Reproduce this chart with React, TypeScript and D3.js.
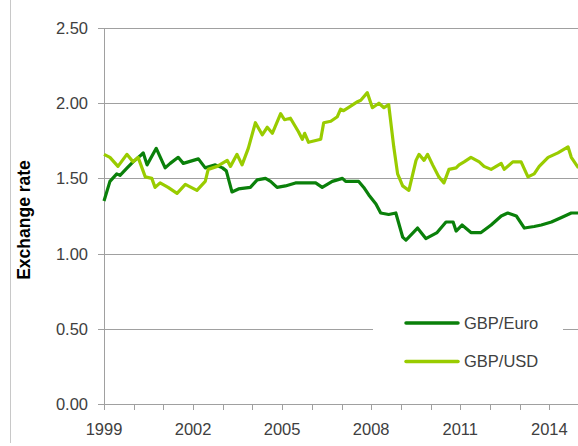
import React from 'react';
import * as d3 from 'd3';

// decimal years and values
const euroDates = [
  1999.0, 1999.2, 1999.43, 1999.54, 1999.78, 1999.98, 2000.22, 2000.32, 2000.45, 2000.76,
  2001.06, 2001.23, 2001.5, 2001.67, 2002.01, 2002.18, 2002.41, 2002.75, 2002.99, 2003.12,
  2003.31, 2003.53, 2003.93, 2004.16, 2004.44, 2004.61, 2004.83, 2005.11, 2005.45, 2005.79,
  2006.13, 2006.35, 2006.69, 2007.03, 2007.14, 2007.58, 2007.75, 2007.92, 2008.16, 2008.32,
  2008.59, 2008.83, 2009.06, 2009.17, 2009.27, 2009.56, 2009.84, 2010.22, 2010.52, 2010.76,
  2010.86, 2011.06, 2011.36, 2011.7, 2012.04, 2012.38, 2012.6, 2012.89, 2013.16, 2013.49,
  2013.73, 2014.07, 2014.41, 2014.74, 2014.98,
];
const euroValues = [
  1.35, 1.48, 1.53, 1.52, 1.57, 1.61, 1.65, 1.67, 1.59, 1.7,
  1.57, 1.6, 1.64, 1.6, 1.62, 1.63, 1.57, 1.59, 1.57, 1.55,
  1.41, 1.43, 1.44, 1.49, 1.5, 1.48, 1.44, 1.45, 1.47, 1.47,
  1.47, 1.44, 1.48, 1.5, 1.48, 1.48, 1.44, 1.39, 1.33, 1.27,
  1.26, 1.27, 1.11, 1.09, 1.11, 1.17, 1.1, 1.14, 1.21, 1.21,
  1.15, 1.19, 1.14, 1.14, 1.19, 1.25, 1.27, 1.25, 1.17, 1.18,
  1.19, 1.21, 1.24, 1.27, 1.27,
];

const usdDates = [
  1999.0, 1999.2, 1999.47, 1999.77, 1999.98, 2000.15, 2000.39, 2000.61, 2000.72, 2000.89,
  2001.16, 2001.46, 2001.74, 2002.13, 2002.41, 2002.51, 2002.81, 2003.15, 2003.26, 2003.48,
  2003.65, 2003.86, 2004.1, 2004.33, 2004.5, 2004.67, 2004.95, 2005.08, 2005.28, 2005.55,
  2005.68, 2005.76, 2005.89, 2006.3, 2006.4, 2006.64, 2006.86, 2006.97, 2007.07, 2007.31,
  2007.54, 2007.65, 2007.87, 2008.04, 2008.26, 2008.43, 2008.59, 2008.76, 2008.89, 2009.06,
  2009.27, 2009.51, 2009.61, 2009.78, 2009.9, 2010.07, 2010.28, 2010.45, 2010.62, 2010.86,
  2010.96, 2011.13, 2011.36, 2011.64, 2011.8, 2012.04, 2012.38, 2012.48, 2012.77, 2013.05,
  2013.28, 2013.49, 2013.66, 2013.96, 2014.29, 2014.63, 2014.74, 2014.98,
];
const usdValues = [
  1.66, 1.64, 1.58, 1.66, 1.61, 1.64, 1.51, 1.5, 1.44, 1.47,
  1.44, 1.4, 1.46, 1.42, 1.48, 1.56, 1.58, 1.62, 1.58, 1.66,
  1.59, 1.7, 1.87, 1.79, 1.84, 1.8, 1.93, 1.89, 1.9, 1.81,
  1.76, 1.8, 1.74, 1.76, 1.87, 1.88, 1.91, 1.96, 1.95, 1.98,
  2.01, 2.02, 2.07, 1.97, 2.0, 1.97, 1.99, 1.71, 1.53, 1.45,
  1.42, 1.62, 1.66, 1.62, 1.66, 1.59, 1.51, 1.47, 1.56, 1.57,
  1.59, 1.61, 1.64, 1.61, 1.58, 1.56, 1.6, 1.56, 1.61, 1.61,
  1.51, 1.53, 1.58, 1.64, 1.67, 1.71, 1.64, 1.57,
];

const yTicks = [0, 0.5, 1, 1.5, 2, 2.5];
const yearTicks = d3.range(1999, 2016);
const yearLabels = [1999, 2002, 2005, 2008, 2011, 2014];

const seriesNames = ['GBP/Euro', 'GBP/USD'];
const seriesColors = ['#0a800a', '#99cc00'];

const App = () => {
  const width = 578,
    height = 446;

  const x = d3.scaleLinear().domain([1999, 2015]).range([104, 579]);
  const y = d3.scaleLinear().domain([0, 2.5]).range([404, 28]);

  const line = d3
    .line<[number, number]>()
    .x((d) => x(d[0]))
    .y((d) => y(d[1]));

  const euro = euroDates.map((t, i) => [t, euroValues[i]] as [number, number]);
  const usd = usdDates.map((t, i) => [t, usdValues[i]] as [number, number]);
  const series = [euro, usd];

  const font = "'Liberation Sans', Arial, sans-serif";

  return (
    <>
      <style>{`body{margin:0}`}</style>
      <svg width={width} height={height} style={{ display: 'block', background: '#fff' }}>
        <line x1={10.5} x2={10.5} y1={0} y2={443} stroke="#c8c8c8" />

        {/* grid */}
        {yTicks.slice(1).map((v) => (
          <line
            key={v}
            x1={98}
            x2={578}
            y1={Math.round(y(v)) + 0.5}
            y2={Math.round(y(v)) + 0.5}
            stroke="#a0a0a0"
          />
        ))}

        {/* axes */}
        <line x1={104.5} x2={104.5} y1={28} y2={404} stroke="#a0a0a0" />
        <line x1={98} x2={578} y1={404.5} y2={404.5} stroke="#a0a0a0" />
        {yearTicks.map((t) => (
          <line
            key={t}
            x1={Math.round(x(t)) + 0.5}
            x2={Math.round(x(t)) + 0.5}
            y1={404}
            y2={410}
            stroke="#a0a0a0"
          />
        ))}

        {yTicks.map((v) => (
          <text
            key={v}
            x={88}
            y={y(v)}
            dy="0.36em"
            textAnchor="end"
            fontFamily={font}
            fontSize={16.5}
            fill="#404040">
            {v.toFixed(2)}
          </text>
        ))}
        {yearLabels.map((t) => (
          <text
            key={t}
            x={x(t)}
            y={435}
            textAnchor="middle"
            fontFamily={font}
            fontSize={16.5}
            fill="#404040">
            {t}
          </text>
        ))}

        <text
          transform="translate(30,220) rotate(-90)"
          textAnchor="middle"
          fontFamily={font}
          fontSize={17.5}
          fontWeight="bold"
          fill="#000">
          Exchange rate
        </text>

        {series.map((s, i) => (
          <path
            key={seriesNames[i]}
            d={line(s) || ''}
            fill="none"
            stroke={seriesColors[i]}
            strokeWidth={3.2}
            strokeLinejoin="round"
          />
        ))}

        {/* legend */}
        <rect x={373} y={290} width={190} height={95} fill="#fff" />
        {seriesNames.map((n, i) => {
          const ly = 323 + i * 38.5;
          return (
            <g key={n}>
              <line x1={406} x2={458} y1={ly} y2={ly} stroke={seriesColors[i]} strokeWidth={3.5} strokeLinecap="round" />
              <text x={464} y={ly} dy="0.36em" fontFamily={font} fontSize={16.5} fill="#404040">
                {n}
              </text>
            </g>
          );
        })}
      </svg>
    </>
  );
};

export default App;
